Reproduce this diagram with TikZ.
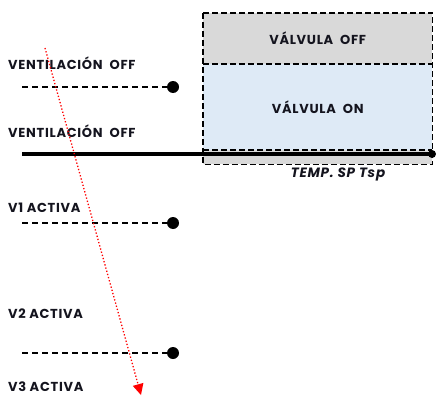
\documentclass[tikz,border=0pt]{standalone}
\usepackage{fontspec}
\setmainfont{Poppins}[LetterSpace=5.5]
\usetikzlibrary{arrows.meta}
\definecolor{offgray}{RGB}{217,217,217}
\definecolor{onblue}{RGB}{222,234,246}
\definecolor{txt}{RGB}{20,20,30}
\begin{document}
\begin{tikzpicture}[x=1pt,y=-1pt,
  lbl/.style={anchor=base west,font=\bfseries\fontsize{13}{15}\selectfont,text=txt,inner sep=0pt},
  zone/.style={anchor=north west,inner sep=0pt,
     font=\bfseries\fontsize{13}{15}\selectfont,text=txt},
  box dash/.style={line width=1.4pt,dash pattern=on 6pt off 3pt},
  dash line/.style={line width=1.3pt,dash pattern=on 6pt off 4pt},
  bigdot/.style={circle,fill=black,inner sep=0pt,minimum size=12pt},
  smalldot/.style={circle,fill=black,inner sep=0pt,minimum size=8pt}]
\useasboundingbox (0,0) rectangle (436,396);
% zones
\node[zone,fill=offgray,minimum width=229pt,minimum height=14pt] (low) at (203,150) {};
\node[zone,fill=onblue,minimum width=229pt,minimum height=86pt] (on) at (203,64) {VÁLVULA\ \ ON};
\node[zone,fill=offgray,minimum width=229pt,minimum height=51pt] (off) at (203,13) {VÁLVULA\ \ OFF};
\draw[box dash] (off.north west) rectangle (low.south east);
\draw[box dash] (on.north west) -- (on.north east);
\draw[box dash] (low.north west) -- (low.north east);
\node[font=\bfseries\itshape\fontsize{13.5}{15}\selectfont,text=txt,inner sep=0pt,anchor=base] (tsp) at (338,177) {TEMP. SP Tsp};
% labels
\node[lbl] (l1) at (8,70) {VENTILACIÓN\ \ OFF};
\node[lbl] (l2) at (8,137.5) {VENTILACIÓN\ \ OFF};
\node[lbl] (l3) at (8,212) {V1 ACTIVA};
\node[lbl] (l4) at (8,318) {V2 ACTIVA};
\node[lbl] (l5) at (8,391) {V3 ACTIVA};
% dashed lines with dots
\node[bigdot] (d1) at (173,87) {};
\node[bigdot] (d2) at (173,223) {};
\node[bigdot] (d3) at (173,353) {};
\coordinate (s1) at (22,87);
\coordinate (s2) at (22,223);
\coordinate (s3) at (22,353);
\draw[dash line] (s1) -- (d1);
\draw[dash line] (s2) -- (d2);
\draw[dash line] (s3) -- (d3);
% solid line
\coordinate (s0) at (22,154);
\node[smalldot] (d0) at (432,154) {};
\draw[line width=3.2pt] (s0) -- (d0.center);
% red arrow
\coordinate (ra) at (45,48);
\coordinate (rb) at (141,395);
\draw[red,line width=1.3pt,dotted,-{Triangle[width=11pt,length=11pt,sep=0pt,line width=0pt]}] (ra) -- (rb);
\end{tikzpicture}
\end{document}
